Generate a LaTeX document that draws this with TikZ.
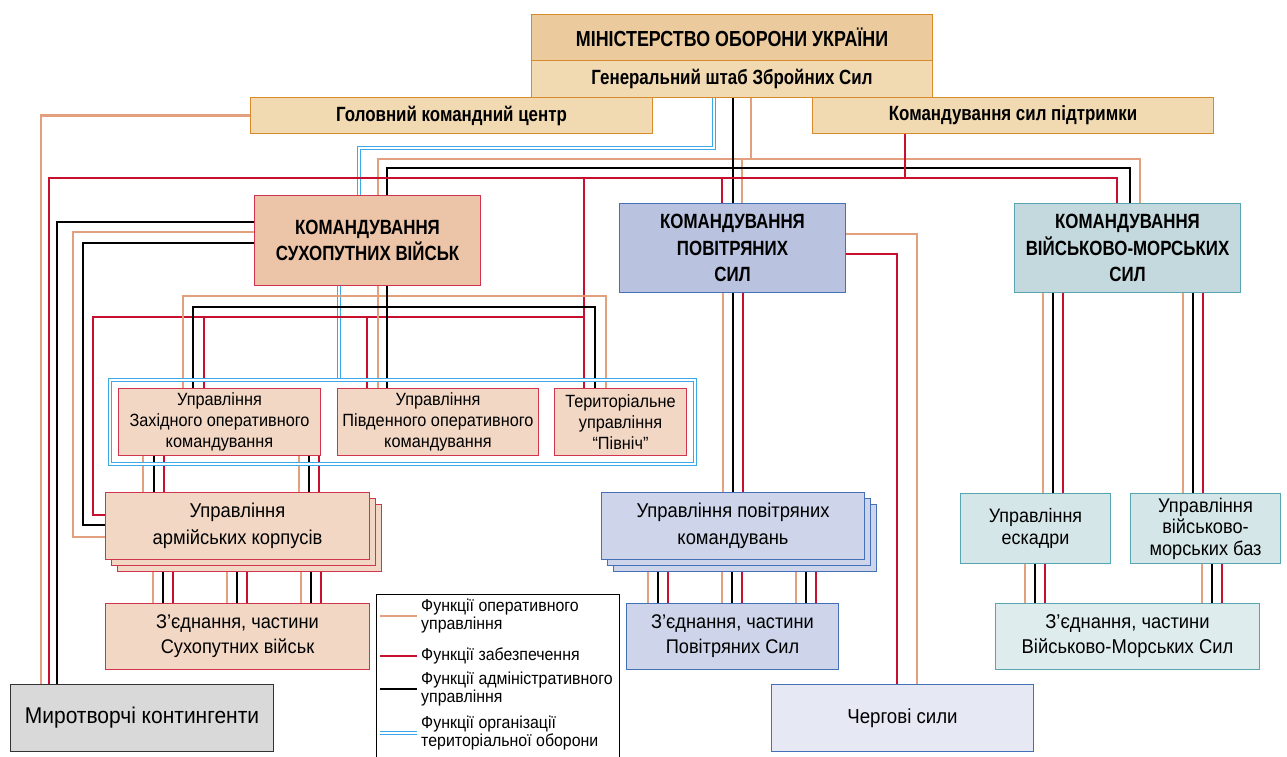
\documentclass[tikz,border=0pt]{standalone}
\usepackage{fontspec}
\setmainfont[FakeStretch=0.92]{Liberation Sans}
\newfontfamily\condfont[FakeStretch=0.82]{Liberation Sans}
\usepackage{tikz}
\usetikzlibrary{positioning,fit,backgrounds}

\definecolor{hqtop}{HTML}{EBCB9D}
\definecolor{hqfill}{HTML}{F1D9B2}
\definecolor{hqborder}{HTML}{D98B2C}
\definecolor{landtop}{HTML}{ECC4A7}
\definecolor{landfill}{HTML}{F2D7C5}
\definecolor{landborder}{HTML}{D1344F}
\definecolor{airtop}{HTML}{B9C2DF}
\definecolor{airfill}{HTML}{CED4E9}
\definecolor{airlight}{HTML}{E6E8F3}
\definecolor{airborder}{HTML}{4470B8}
\definecolor{navytop}{HTML}{C3D9DD}
\definecolor{navyfill}{HTML}{D5E6E8}
\definecolor{navylight}{HTML}{DFECEE}
\definecolor{navyborder}{HTML}{57A5AE}
\definecolor{grayfill}{HTML}{D9D9D9}
\definecolor{opc}{HTML}{E3A07E}
\definecolor{supc}{HTML}{C8102E}
\definecolor{terc}{HTML}{3AA9E8}

\tikzset{
    unit/.style = {draw, line width=1pt, anchor=north west, inner sep=0pt, align=center},
    dims/.style 2 args = {minimum width=#1, minimum height=#2},
    hq/.style = {unit, draw=hqborder, fill=hqfill, font=\condfont\bfseries\fontsize{20.6}{24}\selectfont},
    command/.style = {unit, font=\condfont\bfseries\fontsize{20.6}{26.5}\selectfont},
    sub/.style = {unit, font=\fontsize{17.7}{21}\selectfont},
    mid/.style = {unit, font=\fontsize{20}{26.5}\selectfont},
    opline/.style = {draw=opc, line width=2.2pt},
    supline/.style = {draw=supc, line width=2.2pt},
    admline/.style = {draw=black, line width=2.2pt},
    terline/.style = {draw=terc, line width=0.9pt, double=white, double distance=1.7pt},
    legtext/.style = {anchor=west, align=left, inner sep=0pt, font=\fontsize{17.3}{18}\selectfont},
}

\begin{document}
\begin{tikzpicture}[x=1pt,y=-1pt,line join=miter]
\useasboundingbox (0,0) rectangle (1287,757);

% general staff
\node (min) [hq, fill=hqtop, dims={401pt}{46pt}, font=\condfont\bfseries\fontsize{21.8}{25}\selectfont] at (531,14) {МІНІСТЕРСТВО ОБОРОНИ УКРАЇНИ};
\node (gs)  [hq, dims={401pt}{37pt}] at (531,60) {Генеральний штаб Збройних Сил};
\node (gkc) [hq, dims={402pt}{36pt}] at (250,97) {Головний командний центр};
\node (ksp) [hq, dims={401pt}{36pt}] at (812,97) {Командування сил підтримки};

% commands
\node (ksv)  [command, draw=landborder, fill=landtop, dims={226pt}{90pt}] at (254,195) {КОМАНДУВАННЯ\\СУХОПУТНИХ ВІЙСЬК};
\node (kps)  [command, draw=airborder, fill=airtop, dims={226pt}{89pt}] at (619,203) {КОМАНДУВАННЯ\\ПОВІТРЯНИХ\\СИЛ};
\node (kvms) [command, draw=navyborder, fill=navytop, dims={226pt}{89pt}] at (1014,203) {КОМАНДУВАННЯ\\ВІЙСЬКОВО-МОРСЬКИХ\\СИЛ};

% land forces
\node (zok) [sub, draw=landborder, fill=landfill, dims={202pt}{67pt}] at (118,388) {Управління\\Західного оперативного\\командування};
\node (pok) [sub, draw=landborder, fill=landfill, dims={201pt}{67pt}] at (337,388) {Управління\\Південного оперативного\\командування};
\node (ter) [sub, draw=landborder, fill=landfill, dims={132pt}{67pt}] at (554,388) {Територіальне\\управління\\“Північ”};
\node (terbox) [fit=(zok)(pok)(ter), inner sep=8pt, terline] {};

\node (ak3) [mid, draw=landborder, fill=landfill, dims={264pt}{67pt}] at (117,504) {};
\node (ak2) [mid, draw=landborder, fill=landfill, dims={264pt}{67pt}] at (111,498) {};
\node (ak)  [mid, draw=landborder, fill=landfill, dims={264pt}{67pt}] at (105,492) {Управління\\армійських корпусів};
\node (zsv) [mid, draw=landborder, fill=landfill, dims={264pt}{66pt}, font=\fontsize{19.8}{25}\selectfont] at (105,603) {З’єднання, частини\\Сухопутних військ};
\node (myr) [mid, draw=black!80, fill=grayfill, dims={263pt}{67pt}, font=\fontsize{22.8}{26}\selectfont] at (10,684) {Миротворчі контингенти};

% air force
\node (upk3) [mid, draw=airborder, fill=airfill, dims={263pt}{67pt}] at (613,504) {};
\node (upk2) [mid, draw=airborder, fill=airfill, dims={263pt}{67pt}] at (607,498) {};
\node (upk)  [mid, draw=airborder, fill=airfill, dims={263pt}{67pt}] at (601,492) {Управління повітряних\\командувань};
\node (zps)  [mid, draw=airborder, fill=airfill, dims={212pt}{66pt}, font=\fontsize{19.8}{25}\selectfont] at (626,603) {З’єднання, частини\\Повітряних Сил};
\node (cherg) [mid, draw=airborder, fill=airlight, dims={262pt}{67pt}, font=\fontsize{20.3}{24}\selectfont] at (771,684) {Чергові сили};

% navy
\node (esk)  [mid, draw=navyborder, fill=navyfill, dims={150pt}{70pt}, font=\fontsize{19.5}{22}\selectfont] at (960,493) {Управління\\ескадри};
\node (baz)  [mid, draw=navyborder, fill=navyfill, dims={150pt}{70pt}, font=\fontsize{19.8}{21.5}\selectfont] at (1130,493) {Управління\\військово-\\морських баз};
\node (zvms) [mid, draw=navyborder, fill=navylight, dims={264pt}{66pt}, font=\fontsize{20}{25}\selectfont] at (995,603) {З’єднання, частини\\Військово-Морських Сил};

% legend
\node (legend) [draw=black, line width=0.8pt, fill=white, anchor=north west, minimum width=243pt, minimum height=170pt] at (376,594) {};
\node (lg1) [legtext] at (421,616) {Функції оперативного\\управління};
\node (lg2) [legtext] at (421,656) {Функції забезпечення};
\node (lg3) [legtext] at (421,689) {Функції адміністративного\\управління};
\node (lg4) [legtext] at (421,733) {Функції організації\\територіальної оборони};
\draw[opline]  ([xshift=-41pt]lg1.west) -- ([xshift=-4pt]lg1.west);
\draw[supline] ([xshift=-41pt]lg2.west) -- ([xshift=-4pt]lg2.west);
\draw[admline] ([xshift=-41pt]lg3.west) -- ([xshift=-4pt]lg3.west);
\draw[terline] ([xshift=-41pt]lg4.west) -- ([xshift=-4pt]lg4.west);

\begin{scope}[on background layer]
% from the general staff
\draw[terline] (gs.south -| 714,0) |- (359,148) -- (ksv.north -| 359,0);
\draw[terline] (ksv.south -| 339,0) -- (terbox.north -| 339,0);
\draw[opline] (gs.south -| 751,0) -- (751,159);
\draw[opline] (ksv.north -| 378,0) |- (1140,159) -- (kvms.north -| 1140,0);
\draw[opline] (742,159) -- (kps.north -| 742,0);
\draw[admline] (gs.south -| 733,0) -- (kps.north -| 733,0);
\draw[admline] (ksv.north -| 387,0) |- (1130,168) -- (kvms.north -| 1130,0);
\draw[supline] (ksp.south -| 905,0) -- (905,178);
\draw[supline] (myr.north -| 49,0) |- (1117,178) -- (kvms.north -| 1117,0);
\draw[supline] (584,178) -- (ter.north -| 584,0);
\draw[supline] (722,178) -- (kps.north -| 722,0);
\draw[opline] (gkc.west) -| (myr.north -| 41,0);

% land forces
\draw[admline] (ksv.west |- 0,222) -| (myr.north -| 57,0);
\draw[opline] (ksv.west |- 0,232) -| (73,537) -- (ak.west |- 0,537);
\draw[admline] (ksv.west |- 0,243) -| (83,525) -- (ak.west |- 0,525);
\draw[supline] (ak.west |- 0,515) -| (93,317) -- (584,317);
\draw[supline] (204,317) -- (zok.north -| 204,0);
\draw[supline] (367,317) -- (pok.north -| 367,0);
\draw[opline] (zok.north -| 183,0) |- (606,296) -- (ter.north -| 606,0);
\draw[opline] (ksv.south -| 378,0) -- (pok.north -| 378,0);
\draw[admline] (zok.north -| 193,0) |- (595,307) -- (ter.north -| 595,0);
\draw[admline] (ksv.south -| 387,0) -- (pok.north -| 387,0);
\foreach \a/\b/\c in {143/154/164, 299/309/319} {
  \draw[opline] (zok.south -| \a,0) -- (ak.north -| \a,0);
  \draw[admline] (zok.south -| \b,0) -- (ak.north -| \b,0);
  \draw[supline] (zok.south -| \c,0) -- (ak.north -| \c,0);
}
\foreach \a/\b/\c in {153/163/173, 227/237/247, 301/311/321} {
  \draw[opline] (ak.south -| \a,0) -- (zsv.north -| \a,0);
  \draw[admline] (ak.south -| \b,0) -- (zsv.north -| \b,0);
  \draw[supline] (ak.south -| \c,0) -- (zsv.north -| \c,0);
}

% air force
\draw[opline] (kps.east |- 0,234) -| (cherg.north -| 917,0);
\draw[supline] (kps.east |- 0,254) -| (cherg.north -| 897,0);
\draw[opline] (kps.south -| 723,0) -- (upk.north -| 723,0);
\draw[admline] (kps.south -| 733,0) -- (upk.north -| 733,0);
\draw[supline] (kps.south -| 743,0) -- (upk.north -| 743,0);
\foreach \a/\b/\c in {648/658/668, 722/732/742, 796/806/816} {
  \draw[opline] (upk.south -| \a,0) -- (zps.north -| \a,0);
  \draw[admline] (upk.south -| \b,0) -- (zps.north -| \b,0);
  \draw[supline] (upk.south -| \c,0) -- (zps.north -| \c,0);
}

% navy
\foreach \a/\b/\c/\from/\to in {1043/1053/1063/kvms/esk, 1183/1193/1203/kvms/baz, 1025/1035/1045/esk/zvms, 1202/1212/1222/baz/zvms} {
  \draw[opline] (\from.south -| \a,0) -- (\to.north -| \a,0);
  \draw[admline] (\from.south -| \b,0) -- (\to.north -| \b,0);
  \draw[supline] (\from.south -| \c,0) -- (\to.north -| \c,0);
}
\end{scope}
\end{tikzpicture}
\end{document}
